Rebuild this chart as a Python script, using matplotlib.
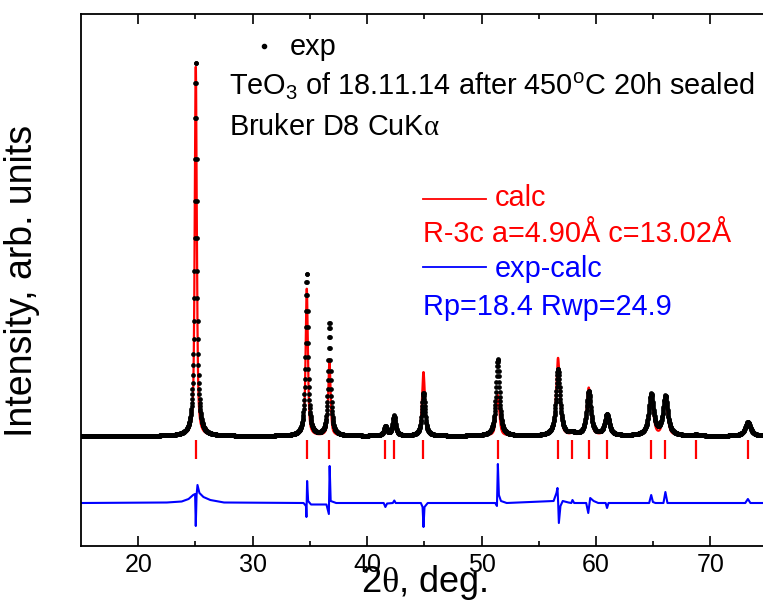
import numpy as np
import matplotlib.pyplot as plt
from matplotlib.lines import Line2D

plt.rcParams['font.family'] = ['Liberation Sans', 'DejaVu Sans']
plt.rcParams['mathtext.fontset'] = 'custom'
plt.rcParams['mathtext.rm'] = 'Liberation Sans'
plt.rcParams['mathtext.it'] = 'Liberation Sans:italic'
plt.rcParams['mathtext.tt'] = 'Liberation Serif'

# Bragg positions of R-3c TeO3 (2theta, deg)
bragg_pos = [25.03, 34.73, 36.71, 41.61, 42.36, 44.93, 51.42, 56.69,
             57.94, 59.37, 60.97, 64.83, 66.07, 68.76, 73.28]
# peak heights above background (counts), calc and exp
calc_height = [3720, 1480, 770, 100, 180, 640, 410, 780,
               15, 480, 210, 370, 350, 10, 140]
exp_height = [3760, 1620, 1130, 90, 200, 430, 770, 670,
              25, 440, 210, 410, 390, 10, 140]
peak_fwhm = [0.21, 0.23, 0.23, 0.28, 0.28, 0.30, 0.33, 0.38,
             0.40, 0.40, 0.42, 0.45, 0.45, 0.48, 0.50]
background = 300

# difference curve exp-calc (counts)
diff_x = [15.0, 22.5, 23.8, 24.4, 24.8, 24.97, 25.03, 25.10, 25.18, 25.35, 25.7, 26.3, 27.5,
          34.45, 34.66, 34.70, 34.76, 34.85, 35.1, 36.45, 36.66, 36.73, 36.82, 37.3,
          41.45, 41.6, 41.75, 42.25, 42.38, 42.5,
          44.7, 44.85, 44.93, 45.02, 45.3,
          51.2, 51.35, 51.43, 51.52, 51.7, 52.2,
          56.3, 56.55, 56.64, 56.70, 56.76, 56.9, 57.1, 57.6,
          57.85, 57.95, 58.1,
          59.15, 59.33, 59.5, 59.8, 60.2,
          60.85, 60.97, 61.1,
          64.65, 64.83, 64.98, 65.2,
          65.9, 66.07, 66.25,
          73.05, 73.28, 73.5, 74.6]
diff_y = [0, 5, 15, 40, 80, 90, -230, 80, 180, 100, 60, 30, 5,
          0, -30, -140, 220, 20, -15, -15, -110, 370, 20, 0,
          0, -40, -5, 0, 25, 0,
          0, -40, -240, -40, 0,
          0, -30, 390, 80, 20, 0,
          20, 100, 150, 0, -200, -30, 20, 5,
          0, 30, 0,
          0, -100, 50, 20, 0,
          0, -50, 0,
          0, 80, 10, 0,
          0, 110, 0,
          0, 40, 0, 0]
diff_offset = -370
tick_low, tick_high = 70, 260


def pseudo_voigt(x, x0, h, w, eta):
    d = (x - x0) / w
    return h * (eta / (1 + 4 * d**2) + (1 - eta) * np.exp(-4 * np.log(2) * d**2))


two_theta = np.arange(15.0, 74.62, 0.02)
calc = np.full_like(two_theta, background, dtype=float)
exp = np.full_like(two_theta, background, dtype=float)
for p, hc, he, w in zip(bragg_pos, calc_height, exp_height, peak_fwhm):
    calc += pseudo_voigt(two_theta, p, hc, w, 0.6)
    exp += pseudo_voigt(two_theta, p, he, w * 1.1, 0.9)

W, H = 763, 601
fig = plt.figure(figsize=(W / 100, H / 100), dpi=100)
ax = fig.add_axes([81 / W, (H - 546) / H, 1 - 81 / W, (546 - 14) / H])

ax.plot(two_theta, calc, color='red', lw=1.6, zorder=2)
ax.plot(two_theta, exp, 'o', color='black', ms=3.4, mew=0, zorder=3)
ax.vlines(bragg_pos, tick_low, tick_high, color='red', lw=1.6, zorder=2)
ax.plot(diff_x, np.array(diff_y) + diff_offset, color='#0000ff', lw=1.5, zorder=2)

ax.set_xlim(15.0, 74.6)
ax.set_ylim(-800, 4520)
ax.set_xticks([20, 30, 40, 50, 60, 70])
ax.set_xticks([25, 35, 45, 55, 65], minor=True)
ax.set_yticks([])
ax.tick_params(axis='x', which='major', direction='in', length=7, width=1.2,
               top=True, labelsize=18, pad=5)
ax.tick_params(axis='x', which='minor', direction='in', length=3.6, width=1.2, top=True)
for s in ['left', 'top', 'bottom']:
    ax.spines[s].set_linewidth(1.3)
ax.spines['right'].set_visible(False)


def fx(px):
    return px / W


def fy(py):
    return 1 - py / H


# axis labels
fig.text(fx(424), fy(592), r'2$\mathtt{\theta}$, deg.', fontsize=26, ha='center', va='baseline')
fig.text(fx(22), fy(281), 'Intensity, arb. units', fontsize=27, rotation=90,
         ha='center', va='center')

# legend block, upper
fs = 20.8
fig.add_artist(Line2D([fx(264)], [fy(46)], marker='o', ms=3, color='black', lw=0))
fig.text(fx(290), fy(55), 'exp', fontsize=fs, va='baseline')
fig.text(fx(229), fy(95), r'TeO$_3$ of 18.11.14 after 450$^\mathrm{o}$C 20h sealed',
         fontsize=fs, va='baseline')
fig.text(fx(229), fy(135), r'Bruker D8 CuK$\mathtt{\alpha}$', fontsize=fs, va='baseline')

# legend block, lower
fig.add_artist(Line2D([fx(423), fx(486)], [fy(199), fy(199)], color='red', lw=1.3))
fig.text(fx(495), fy(206), 'calc', fontsize=fs, color='red', va='baseline')
fig.text(fx(423), fy(242), 'R-3c a=4.90Å c=13.02Å', fontsize=fs, color='red', va='baseline')
fig.add_artist(Line2D([fx(423), fx(486)], [fy(267), fy(267)], color='#0000ff', lw=1.3))
fig.text(fx(495), fy(277), 'exp-calc', fontsize=fs, color='#0000ff', va='baseline')
fig.text(fx(423), fy(315), 'Rp=18.4 Rwp=24.9', fontsize=fs, color='#0000ff', va='baseline')

fig.savefig('out.png', dpi=100)
